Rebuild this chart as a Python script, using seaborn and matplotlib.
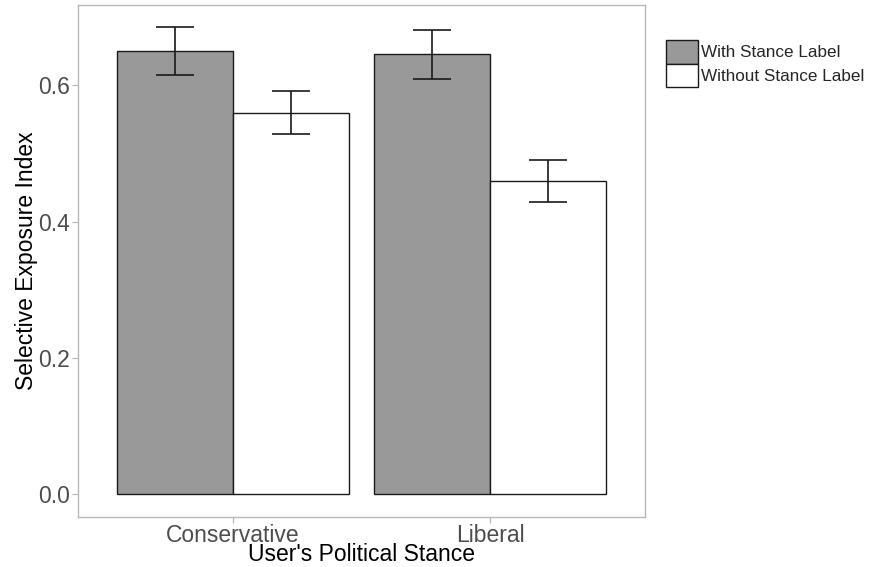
import matplotlib
matplotlib.use("Agg")
import matplotlib.pyplot as plt
from matplotlib.patches import Patch
import seaborn as sns
import pandas as pd

stances = ["Conservative", "Liberal"]
conditions = ["With Stance Label", "Without Stance Label"]
means = {"With Stance Label": [0.650, 0.646],
         "Without Stance Label": [0.560, 0.459]}
lower = {"With Stance Label": [0.615, 0.609],
         "Without Stance Label": [0.529, 0.429]}
upper = {"With Stance Label": [0.685, 0.682],
         "Without Stance Label": [0.591, 0.490]}
colors = {"With Stance Label": "#999999", "Without Stance Label": "#ffffff"}

rows = []
for cond in conditions:
    for i, s in enumerate(stances):
        rows.append({"stance": s, "condition": cond, "value": means[cond][i],
                     "lo": lower[cond][i], "hi": upper[cond][i]})
df = pd.DataFrame(rows)

sns.set_theme(style="white")
plt.rcParams["font.family"] = ["Liberation Sans", "DejaVu Sans"]

fig = plt.figure(figsize=(8.7, 5.67), dpi=100)
ax = fig.add_axes([78 / 870, 1 - 517 / 567, (645 - 78) / 870, (517 - 5) / 567])

sns.barplot(data=df, x="stance", y="value", hue="condition", order=stances,
            hue_order=conditions, palette=colors, width=0.9, errorbar=None,
            edgecolor="#1a1a1a", linewidth=1.0, saturation=1, legend=False, ax=ax)

# error bars centred on each drawn bar
bars = [p for p in ax.patches if p.get_height() > 0]
for bar in bars:
    xc = bar.get_x() + bar.get_width() / 2
    h = bar.get_height()
    row = df[(df["value"] - h).abs() < 1e-9].iloc[0]
    ax.errorbar(xc, row["value"], yerr=[[row["value"] - row["lo"]], [row["hi"] - row["value"]]],
                fmt="none", ecolor="#1a1a1a", elinewidth=1.2, capsize=13.5, capthick=1.2)

ax.set_xlim(-0.6, 1.6)
ax.set_ylim(-0.034, 0.718)
ax.set_yticks([0.0, 0.2, 0.4, 0.6])
ax.set_yticklabels(["0.0", "0.2", "0.4", "0.6"])

for sp in ax.spines.values():
    sp.set_visible(True)
    sp.set_color("#b8b8b8")
    sp.set_linewidth(1.0)

ax.tick_params(axis="both", which="major", length=4, width=0.9, color="#b8b8b8",
               labelsize=16.5, labelcolor="#4d4d4d", pad=2, left=True, bottom=True)
ax.tick_params(axis="x", pad=1)
ax.set_xlabel("User's Political Stance", fontsize=16.5, color="black", labelpad=-3)
ax.set_ylabel("Selective Exposure Index", fontsize=16.5, color="black", labelpad=0)

handles = [Patch(facecolor=colors[c], edgecolor="#1a1a1a", linewidth=1.0) for c in conditions]
leg = fig.legend(handles, conditions, loc="upper left", bbox_to_anchor=(666 / 870, 1 - 40 / 567),
                 frameon=False, fontsize=12.3, handlelength=1.88, handleheight=1.75,
                 labelspacing=0.0, handletextpad=0.15, borderpad=0, borderaxespad=0)

fig.savefig("out.png", dpi=100)
